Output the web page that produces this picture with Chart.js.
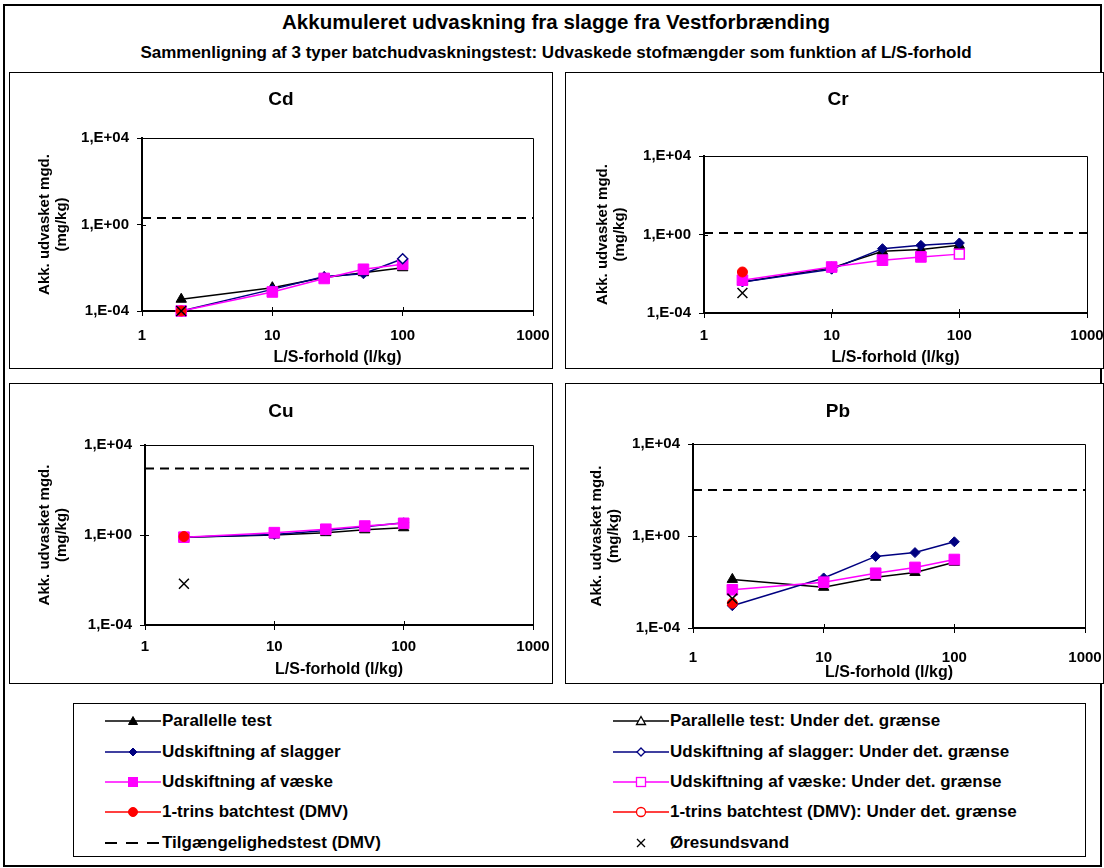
<!DOCTYPE html>
<html>
<head>
<meta charset="utf-8">
<script src="https://cdn.jsdelivr.net/npm/chart.js@4.4.1/dist/chart.umd.min.js"></script>
<style>
  body { margin: 0; background: #fff; font-family: "Liberation Sans", Arial, sans-serif; }
  #frame { position: absolute; left: 3px; top: 4px; width: 1099px; height: 863px; border: 2px solid #000; box-sizing: border-box; }
  .head { position: absolute; left: 0; width: 1112px; text-align: center; font-weight: bold; white-space: nowrap; }
  .panel { position: absolute; border: 1px solid #000; box-sizing: border-box; background: #fff; }
  .panel canvas { position: absolute; left: 0; top: 0; }
  #legend { position: absolute; left: 73px; top: 703px; width: 1013px; height: 154px; border: 1px solid #000; box-sizing: border-box; }
  .item { position: absolute; height: 20px; white-space: nowrap; font-weight: bold; font-size: 17px; line-height: 20px; }
  .item svg { position: absolute; top: 3px; }
  .item span { position: absolute; top: 0; }
</style>
</head>
<body>
<div id="frame"></div>
<div class="head" style="top:10px;font-size:20.5px;">Akkumuleret udvaskning fra slagge fra Vestforbrænding</div>
<div class="head" style="top:43px;font-size:17px;">Sammenligning af 3 typer batchudvaskningstest: Udvaskede stofmængder som funktion af L/S-forhold</div>
<div id="panels"></div>
<div id="legend"></div>

<script>
// L/S ratios of the batch steps, and the one-step test
const lsRatio = [2, 10, 25, 50, 100];
const batchRatio = 2;

const xTickValues = [1, 10, 100, 1000];
const xTickLabels = ['1', '10', '100', '1000'];
const yTickValues = [1e-4, 1, 1e4];
const yTickLabels = ['1,E-04', '1,E+00', '1,E+04'];

// Cd (mg/kg)
const cdParallel = [3.5e-4, 1.2e-3, 3.5e-3, 5.9e-3, 0.010];
const cdSlagger = [1.0e-4, 1.0e-3, 3.9e-3, 5.3e-3, 0.026];
const cdSlaggerUnder = [false, false, false, false, true];
const cdVaeske = [1.0e-4, 7.6e-4, 3.2e-3, 8.5e-3, 0.0145];
const cdBatch = 1.0e-4;
const cdTilg = 2.0;
const cdOresund = 1.0e-4;

// Cr (mg/kg)
const crParallel = [3.8e-3, 0.020, 0.14, 0.17, 0.28];
const crSlagger = [3.8e-3, 0.017, 0.19, 0.28, 0.37];
const crVaeske = [4.7e-3, 0.022, 0.049, 0.072, 0.10];
const crVaeskeUnder = [false, false, false, false, true];
const crBatch = 0.0123;
const crTilg = 1.2;
const crOresund = 1.05e-3;

// Cu (mg/kg)
const cuParallel = [0.80, 1.0, 1.27, 1.7, 2.1];
const cuSlagger = [0.80, 1.05, 1.6, 2.3, 3.5];
const cuVaeske = [0.80, 1.27, 1.8, 2.5, 3.3];
const cuBatch = 0.85;
const cuTilg = 900;
const cuOresund = 6.8e-3;

// Pb (mg/kg)
const pbParallel = [0.013, 5.9e-3, 0.016, 0.026, 0.072];
const pbSlagger = [9.3e-4, 0.015, 0.13, 0.19, 0.56];
const pbVaeske = [4.6e-3, 9.8e-3, 0.024, 0.043, 0.095];
const pbBatch = 1.2e-3;
const pbTilg = 100;
const pbOresund = 1.9e-3;

const FONT = '"Liberation Sans", Arial, sans-serif';
const NAVY = '#000080';
const MAGENTA = '#ff00ff';
const RED = '#ff0000';

const panels = [
  { name: 'Cd', parallel: cdParallel, slagger: cdSlagger, vaeske: cdVaeske, batch: cdBatch, tilg: cdTilg, oresund: cdOresund,
    slaggerUnder: cdSlaggerUnder,
    box: { left: 9, top: 72, width: 544, height: 297 }, plot: [142, 138, 533, 311], titleX: 281, titleY: 100, yTitleX: 45, xLabelY: 336, xTitleY: 358 },
  { name: 'Cr', parallel: crParallel, slagger: crSlagger, vaeske: crVaeske, batch: crBatch, tilg: crTilg, oresund: crOresund,
    vaeskeUnder: crVaeskeUnder,
    box: { left: 565, top: 72, width: 539, height: 297 }, plot: [704, 156, 1087, 313], titleX: 838, titleY: 100, yTitleX: 603, xLabelY: 336, xTitleY: 358 },
  { name: 'Cu', parallel: cuParallel, slagger: cuSlagger, vaeske: cuVaeske, batch: cuBatch, tilg: cuTilg, oresund: cuOresund,
    box: { left: 9, top: 383, width: 544, height: 301 }, plot: [145, 445, 533, 625], titleX: 281, titleY: 412, yTitleX: 45, xLabelY: 647, xTitleY: 670 },
  { name: 'Pb', parallel: pbParallel, slagger: pbSlagger, vaeske: pbVaeske, batch: pbBatch, tilg: pbTilg, oresund: pbOresund,
    box: { left: 565, top: 383, width: 539, height: 301 }, plot: [693, 444, 1085, 628], titleX: 838, titleY: 412, yTitleX: 597, xLabelY: 658, xTitleY: 673 },
];

function points(values) {
  return lsRatio.map((x, i) => ({ x: x, y: values[i] }));
}

function underPoints(values, flags) {
  return lsRatio.map((x, i) => ({ x: x, y: values[i] })).filter((p, i) => flags && flags[i]);
}

function series(label, values, flags, color, style, radius) {
  return {
    label: label,
    data: points(values),
    showLine: true,
    borderColor: color,
    backgroundColor: color,
    borderWidth: 1.5,
    pointStyle: style,
    pointRadius: ctx => (flags && flags[ctx.dataIndex]) ? 0 : radius,
    pointBorderWidth: 1,
    clip: false,
  };
}

function openMarkers(label, values, flags, color, style, radius) {
  return {
    label: label,
    data: underPoints(values, flags),
    showLine: false,
    borderColor: color,
    backgroundColor: '#fff',
    pointStyle: style,
    pointRadius: radius,
    pointBorderWidth: 1.5,
    clip: false,
  };
}

function buildDatasets(p) {
  // first dataset is drawn on top
  return [
    { label: 'Øresundsvand', data: [{ x: batchRatio, y: p.oresund }], showLine: false,
      pointStyle: 'crossRot', pointRadius: 7, borderColor: '#000', pointBorderWidth: 1.5, clip: false },
    openMarkers('Udskiftning af væske: Under det. grænse', p.vaeske, p.vaeskeUnder, MAGENTA, 'rect', 7),
    openMarkers('Udskiftning af slagger: Under det. grænse', p.slagger, p.slaggerUnder, NAVY, 'rectRot', 5),
    { label: '1-trins batchtest (DMV)', data: [{ x: batchRatio, y: p.batch }], showLine: false,
      pointStyle: 'circle', pointRadius: 5, borderColor: RED, backgroundColor: RED, clip: false },
    series('Udskiftning af væske', p.vaeske, p.vaeskeUnder, MAGENTA, 'rect', 7.5),
    series('Udskiftning af slagger', p.slagger, p.slaggerUnder, NAVY, 'rectRot', 5),
    series('Parallelle test', p.parallel, null, '#000', 'triangle', 6),
    { label: 'Tilgængelighedstest (DMV)', data: [{ x: 1, y: p.tilg }, { x: 1000, y: p.tilg }], showLine: true,
      borderColor: '#000', borderWidth: 2, borderDash: [9, 6], pointRadius: 0 },
  ];
}

// closes the plot box and draws the inner half of the cross tick marks
const plotFrame = {
  id: 'plotFrame',
  beforeDatasetsDraw(chart) {
    const { ctx, chartArea: a, scales } = chart;
    ctx.save();
    ctx.strokeStyle = '#000';
    ctx.lineWidth = 1;
    ctx.beginPath();
    ctx.moveTo(a.left, a.top + 0.5);
    ctx.lineTo(a.right + 0.5, a.top + 0.5);
    ctx.lineTo(a.right + 0.5, a.bottom);
    ctx.stroke();
    ctx.beginPath();
    xTickValues.forEach(v => {
      const x = Math.round(scales.x.getPixelForValue(v)) + 0.5;
      ctx.moveTo(x, a.bottom);
      ctx.lineTo(x, a.bottom - 4);
    });
    yTickValues.forEach(v => {
      const y = Math.round(scales.y.getPixelForValue(v)) + 0.5;
      ctx.moveTo(a.left, y);
      ctx.lineTo(a.left + 4, y);
    });
    ctx.stroke();
    ctx.restore();
  }
};

const TICK_LEN = 5;
const TICK_SIZE = 15;
const TITLE_SIZE = 19;
const AXIS_TITLE_SIZE = 15;
const X_TITLE_SIZE = 16;

function makeChart(p) {
  const holder = document.createElement('div');
  holder.className = 'panel';
  holder.style.left = p.box.left + 'px';
  holder.style.top = p.box.top + 'px';
  holder.style.width = p.box.width + 'px';
  holder.style.height = p.box.height + 'px';
  const canvas = document.createElement('canvas');
  const W = p.box.width - 2, H = p.box.height - 2;
  canvas.width = W; canvas.height = H;
  canvas.style.width = W + 'px'; canvas.style.height = H + 'px';
  holder.appendChild(canvas);
  document.getElementById('panels').appendChild(holder);

  const cx = p.box.left + 1, cy = p.box.top + 1;
  const pl = p.plot[0] - cx, pt = p.plot[1] - cy, pr = p.plot[2] - cx, pb = p.plot[3] - cy;
  const titleLH = TITLE_SIZE * 1.2;
  const titleTop = (p.titleY - cy) - titleLH / 2;
  const tickLH = TICK_SIZE * 1.2;
  const yTitleLH = AXIS_TITLE_SIZE * 1.15;
  const xTitleLH = X_TITLE_SIZE * 1.2;

  // the panel title is centred between the layout paddings; a blank right axis
  // takes up the rest of the space right of the plot
  const shift = 2 * (p.titleX - cx) - W;
  const padLeft = Math.max(shift, 0), padRight = Math.max(-shift, 0);

  new Chart(canvas, {
    type: 'scatter',
    data: { datasets: buildDatasets(p) },
    options: {
      responsive: false,
      animation: false,
      events: [],
      layout: { padding: { left: padLeft, top: 0, right: padRight, bottom: 0 } },
      plugins: {
        legend: { display: false },
        tooltip: { enabled: false },
        title: {
          display: true, text: p.name, color: '#000',
          font: { family: FONT, size: TITLE_SIZE, weight: 'bold', lineHeight: 1.2 },
          padding: { top: titleTop, bottom: pt - titleTop - titleLH },
        },
      },
      scales: {
        x: {
          type: 'logarithmic', position: 'bottom', min: 1, max: 1000,
          afterBuildTicks: s => { s.ticks = xTickValues.map(v => ({ value: v })); },
          afterFit: s => { s.height = H - pb; s.paddingLeft = 0; s.paddingRight = 0; },
          grid: { drawOnChartArea: false, tickLength: TICK_LEN, color: '#000', lineWidth: 1 },
          border: { color: '#000', width: 2 },
          ticks: {
            autoSkip: false, maxRotation: 0, color: '#000',
            padding: (p.xLabelY - p.plot[3]) - TICK_LEN - tickLH / 2,
            font: { family: FONT, size: TICK_SIZE, weight: 'bold' },
            callback: (v, i) => xTickLabels[i],
          },
          title: {
            display: true, text: 'L/S-forhold (l/kg)', color: '#000',
            font: { family: FONT, size: X_TITLE_SIZE, weight: 'bold', lineHeight: 1.2 },
            padding: { top: 0, bottom: (cy + H) - p.xTitleY - xTitleLH / 2 },
          },
        },
        y: {
          type: 'logarithmic', position: 'left', min: 1e-4, max: 1e4,
          afterBuildTicks: s => { s.ticks = yTickValues.map(v => ({ value: v })); },
          afterFit: s => { s.width = pl - padLeft; s.paddingTop = 0; s.paddingBottom = 0; },
          grid: { drawOnChartArea: false, tickLength: TICK_LEN, color: '#000', lineWidth: 1 },
          border: { color: '#000', width: 2 },
          ticks: {
            autoSkip: false, color: '#000', padding: 8,
            font: { family: FONT, size: TICK_SIZE, weight: 'bold' },
            callback: (v, i) => yTickLabels[i],
          },
          title: {
            display: true, text: ['Akk. udvasket mgd.', '(mg/kg)'], color: '#000',
            font: { family: FONT, size: AXIS_TITLE_SIZE, weight: 'bold', lineHeight: 1.15 },
            padding: { top: (p.yTitleX - cx) - padLeft - yTitleLH / 2, bottom: 0 },
          },
        },
        spacer: {
          type: 'linear', position: 'right', min: 0, max: 1,
          afterFit: s => { s.width = (W - pr) - padRight; s.paddingTop = 0; s.paddingBottom = 0; },
          grid: { display: false },
          border: { display: false },
          ticks: { display: false },
        },
      },
    },
    plugins: [plotFrame],
  });
}

panels.forEach(makeChart);

// legend: sample line + marker, then label
const legendItems = [
  { col: 0, row: 0, text: 'Parallelle test', color: '#000', marker: 'triangle', open: false, line: 'solid' },
  { col: 0, row: 1, text: 'Udskiftning af slagger', color: NAVY, marker: 'diamond', open: false, line: 'solid' },
  { col: 0, row: 2, text: 'Udskiftning af væske', color: MAGENTA, marker: 'square', open: false, line: 'solid' },
  { col: 0, row: 3, text: '1-trins batchtest (DMV)', color: RED, marker: 'circle', open: false, line: 'solid' },
  { col: 0, row: 4, text: 'Tilgængelighedstest (DMV)', color: '#000', marker: null, open: false, line: 'dash' },
  { col: 1, row: 0, text: 'Parallelle test: Under det. grænse', color: '#000', marker: 'triangle', open: true, line: 'solid' },
  { col: 1, row: 1, text: 'Udskiftning af slagger: Under det. grænse', color: NAVY, marker: 'diamond', open: true, line: 'solid' },
  { col: 1, row: 2, text: 'Udskiftning af væske: Under det. grænse', color: MAGENTA, marker: 'square', open: true, line: 'solid' },
  { col: 1, row: 3, text: '1-trins batchtest (DMV): Under det. grænse', color: RED, marker: 'circle', open: true, line: 'solid' },
  { col: 1, row: 4, text: 'Øresundsvand', color: '#000', marker: 'cross', open: false, line: 'none' },
];

function sampleSvg(it) {
  const w = 56, c = 28, m = 7;
  const fill = it.open ? '#fff' : it.color;
  let s = `<svg width="${w}" height="14" viewBox="0 0 ${w} 14">`;
  if (it.line === 'solid') s += `<line x1="0" y1="${m}" x2="${w}" y2="${m}" stroke="${it.color}" stroke-width="1.5"/>`;
  if (it.line === 'dash') s += `<line x1="0" y1="${m}" x2="${w}" y2="${m}" stroke="${it.color}" stroke-width="2" stroke-dasharray="12 9"/>`;
  const sw = it.open ? 1.3 : 1;
  if (it.marker === 'triangle') s += `<polygon points="${c},${m - 4.5} ${c + 4.5},${m + 3.5} ${c - 4.5},${m + 3.5}" fill="${fill}" stroke="${it.color}" stroke-width="${sw}"/>`;
  if (it.marker === 'diamond') s += `<polygon points="${c},${m - 4} ${c + 4},${m} ${c},${m + 4} ${c - 4},${m}" fill="${fill}" stroke="${it.color}" stroke-width="${sw}"/>`;
  if (it.marker === 'square') s += `<rect x="${c - 4.5}" y="${m - 4.5}" width="9" height="9" fill="${fill}" stroke="${it.color}" stroke-width="${sw}"/>`;
  if (it.marker === 'circle') s += `<circle cx="${c}" cy="${m}" r="4.5" fill="${fill}" stroke="${it.color}" stroke-width="${sw}"/>`;
  if (it.marker === 'cross') s += `<path d="M${c - 4} ${m - 4} L${c + 4} ${m + 4} M${c + 4} ${m - 4} L${c - 4} ${m + 4}" stroke="#000" stroke-width="1.3"/>`;
  return s + '</svg>';
}

const legend = document.getElementById('legend');
const colSample = [105 - 74, 613 - 74];
const colText = [162 - 74, 670 - 74];
const rowY = [721, 752, 782, 812, 843];
legendItems.forEach(it => {
  const d = document.createElement('div');
  d.className = 'item';
  d.style.left = '0px';
  d.style.top = (rowY[it.row] - 704 - 10) + 'px';
  d.innerHTML = `<span style="left:${colSample[it.col]}px;top:0;position:absolute">${sampleSvg(it)}</span>`
    + `<span style="left:${colText[it.col]}px">${it.text}</span>`;
  legend.appendChild(d);
});
</script>
</body>
</html>
